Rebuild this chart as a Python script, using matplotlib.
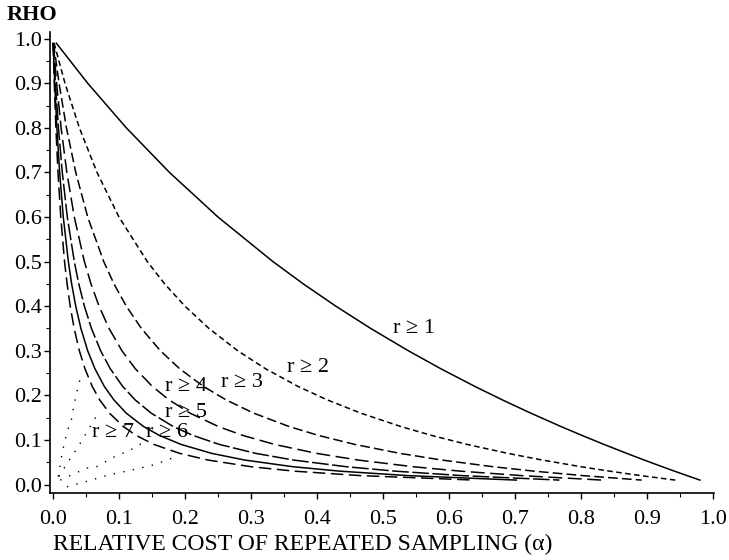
import matplotlib
matplotlib.use("Agg")
import matplotlib.pyplot as plt

plt.rcParams['font.family'] = ['Liberation Serif', 'DejaVu Serif']
plt.rcParams['lines.scale_dashes'] = False

# rho values at which each boundary curve was read
rho = [0.99, 0.9, 0.8, 0.7, 0.6, 0.5, 0.45, 0.4, 0.35, 0.3, 0.26, 0.22,
       0.19, 0.16, 0.13, 0.11, 0.09, 0.07, 0.055, 0.04, 0.03, 0.02, 0.01]

# relative cost alpha on each boundary, r >= 1 ... r >= 7
alpha_r1 = [0.0050, 0.0526, 0.1111, 0.1765, 0.2500, 0.3333, 0.3793, 0.4286,
            0.4815, 0.5385, 0.5873, 0.6393, 0.6807, 0.7241, 0.7699, 0.8018,
            0.8349, 0.8692, 0.8957, 0.9231, 0.9417, 0.9608, 0.9802]
alpha_r2 = [0.0017, 0.0182, 0.0400, 0.0667, 0.1000, 0.1429, 0.1692, 0.2000,
            0.2364, 0.2800, 0.3217, 0.3714, 0.4154, 0.4667, 0.5273, 0.5742,
            0.6276, 0.6889, 0.7412, 0.8000, 0.8435, 0.8909, 0.9429]
alpha_r3 = [0.0008, 0.0092, 0.0204, 0.0345, 0.0526, 0.0769, 0.0924, 0.1111,
            0.1340, 0.1628, 0.1917, 0.2281, 0.2621, 0.3043, 0.3580, 0.4027,
            0.4573, 0.5254, 0.5888, 0.6667, 0.7293, 0.8033, 0.8919]
alpha_r4 = [0.0005, 0.0055, 0.0123, 0.0210, 0.0323, 0.0476, 0.0576, 0.0698,
            0.0850, 0.1045, 0.1246, 0.1506, 0.1757, 0.2079, 0.2507, 0.2880,
            0.3358, 0.3991, 0.4621, 0.5455, 0.6178, 0.7101, 0.8319]
alpha_r5 = [0.0003, 0.0037, 0.0083, 0.0141, 0.0217, 0.0323, 0.0391, 0.0476,
            0.0583, 0.0722, 0.0867, 0.1057, 0.1244, 0.1489, 0.1824, 0.2124,
            0.2521, 0.3069, 0.3642, 0.4444, 0.5187, 0.6203, 0.7674]
alpha_r6 = [0.0002, 0.0026, 0.0059, 0.0101, 0.0156, 0.0233, 0.0283, 0.0345,
            0.0423, 0.0526, 0.0635, 0.0778, 0.0922, 0.1111, 0.1374, 0.1615,
            0.1940, 0.2403, 0.2903, 0.3636, 0.4350, 0.5385, 0.7021]
alpha_r7 = [0.0002, 0.0020, 0.0044, 0.0076, 0.0118, 0.0175, 0.0214, 0.0261,
            0.0321, 0.0400, 0.0484, 0.0595, 0.0707, 0.0857, 0.1067, 0.1262,
            0.1529, 0.1918, 0.2348, 0.3000, 0.3660, 0.4667, 0.6387]

# faint dotted traces near the origin
dot_a_alpha = [0.008, 0.014, 0.021, 0.028, 0.032, 0.036, 0.038, 0.043]
dot_a_rho = [0.018, 0.072, 0.116, 0.146, 0.181, 0.203, 0.223, 0.242]
dot_b_alpha = [0.009, 0.023, 0.037, 0.066, 0.071]
dot_b_rho = [0.018, 0.051, 0.082, 0.154, 0.163]
dot_c_alpha = [0.011, 0.051, 0.066, 0.094, 0.112, 0.127, 0.142]
dot_c_rho = [0.010, 0.037, 0.040, 0.063, 0.074, 0.085, 0.100]
dot_d_alpha = [0.021, 0.051, 0.076, 0.098, 0.121, 0.152, 0.182]
dot_d_rho = [-0.005, 0.007, 0.018, 0.026, 0.033, 0.044, 0.060]

curves = [alpha_r1, alpha_r2, alpha_r3, alpha_r4, alpha_r5, alpha_r6, alpha_r7]
labels = ['r \u2265 1', 'r \u2265 2', 'r \u2265 3', 'r \u2265 4',
          'r \u2265 5', 'r \u2265 6', 'r \u2265 7']
label_x = [0.515, 0.355, 0.255, 0.170, 0.170, 0.141, 0.059]
label_y = [0.351, 0.263, 0.228, 0.221, 0.162, 0.117, 0.117]

styles = [
    '-',
    (0, (4, 2.5)),
    (0, (7, 3)),
    (0, (10, 4)),
    (0, (12, 2.5)),
    '-',
    (0, (9, 4)),
]

fig = plt.figure(figsize=(7.29, 5.6), dpi=100)
ax = fig.add_axes([0.0686, 0.1196, 0.9108, 0.8233])

for alpha, ls in zip(curves, styles):
    ax.plot(alpha, rho, color='black', linewidth=1.1, linestyle=ls)

for da, dr in [(dot_a_alpha, dot_a_rho), (dot_b_alpha, dot_b_rho),
               (dot_c_alpha, dot_c_rho), (dot_d_alpha, dot_d_rho)]:
    ax.plot(da, dr, color='black', linewidth=1.0, linestyle=(0, (1, 6)))

for text, x, y in zip(labels, label_x, label_y):
    ax.text(x, y, text, fontsize=16, ha='left', va='center')

ax.set_xlim(-0.0045, 1.0015)
ax.set_ylim(-0.019, 1.015)

ax.spines['top'].set_visible(False)
ax.spines['right'].set_visible(False)
ax.spines['left'].set_linewidth(1.2)
ax.spines['bottom'].set_linewidth(1.2)

xt = [i / 10 for i in range(11)]
ax.set_xticks(xt)
ax.set_xticklabels(['%.1f' % v for v in xt], fontsize=16)
ax.set_xticks([0.05 + i / 10 for i in range(10)], minor=True)
ax.set_yticks(xt)
ax.set_yticklabels(['%.1f' % v for v in xt], fontsize=16)
ax.set_yticks([0.05 + i / 10 for i in range(10)], minor=True)
ax.tick_params(which='major', direction='out', length=4, width=1.0)
ax.tick_params(which='minor', direction='out', length=3, width=0.8)
ax.tick_params(axis='x', which='major', pad=8)
ax.tick_params(axis='y', which='major', pad=2)

fig.text(0.0096, 0.973, 'RHO', fontsize=16, fontweight='bold',
         ha='left', va='center')
fig.text(0.4156, 0.027, 'RELATIVE COST OF REPEATED SAMPLING (\u03b1)',
         fontsize=17, ha='center', va='center')

fig.savefig('out.png', dpi=100)
